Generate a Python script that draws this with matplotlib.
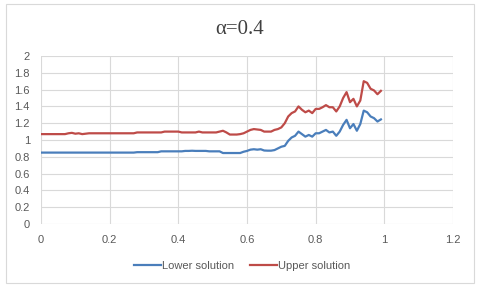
import numpy as np
import matplotlib
matplotlib.use("Agg")
import matplotlib.pyplot as plt
from matplotlib.patches import Rectangle

x_vals = [round(i * 0.01, 2) for i in range(100)]

lower = ([0.85] * 28 +
         [0.855] * 7 +
         [0.865] * 7 +
         [0.87, 0.87, 0.872, 0.87, 0.87, 0.87, 0.87] +
         [0.865, 0.865, 0.865, 0.865] +
         [0.845, 0.845, 0.845, 0.845, 0.845, 0.845] +
         [0.86, 0.87, 0.885, 0.89, 0.885, 0.89, 0.875, 0.873, 0.873, 0.88,
          0.90, 0.92, 0.93, 0.99, 1.03, 1.05, 1.10, 1.07, 1.04, 1.06,
          1.04, 1.08, 1.08, 1.10, 1.12, 1.09, 1.10, 1.05, 1.10, 1.18,
          1.24, 1.14, 1.19, 1.11, 1.19, 1.35, 1.33, 1.28, 1.26, 1.22,
          1.245])

upper = ([1.07] * 8 +
         [1.08, 1.085, 1.075, 1.08, 1.07, 1.075, 1.08] +
         [1.08] * 13 +
         [1.09] * 8 +
         [1.10] * 5 +
         [1.09] * 5 +
         [1.10] +
         [1.09] * 5 +
         [1.10, 1.11, 1.09, 1.065, 1.065, 1.065, 1.07, 1.08,
          1.10, 1.12, 1.13, 1.125, 1.12, 1.10, 1.10, 1.10, 1.12, 1.13,
          1.15, 1.20, 1.28, 1.32, 1.34, 1.40, 1.36, 1.33, 1.35, 1.32,
          1.37, 1.37, 1.39, 1.415, 1.39, 1.39, 1.34, 1.40, 1.50, 1.57,
          1.45, 1.49, 1.40, 1.47, 1.70, 1.68, 1.61, 1.59, 1.545, 1.585])

series_names = ["Lower solution", "Upper solution"]
title = "\u03b1=0.4"
x_ticks = [0, 0.2, 0.4, 0.6, 0.8, 1, 1.2]
x_ticklabels = ["0", "0.2", "0.4", "0.6", "0.8", "1", "1.2"]
y_ticks = [0, 0.2, 0.4, 0.6, 0.8, 1, 1.2, 1.4, 1.6, 1.8, 2]
y_ticklabels = ["0", "0.2", "0.4", "0.6", "0.8", "1", "1.2", "1.4", "1.6", "1.8", "2"]

fig = plt.figure(figsize=(4.8, 2.89), dpi=100)
fig.patch.set_facecolor("white")
fig.patches.append(Rectangle((6 / 480, 1 - 283 / 289), 468 / 480, 279 / 289,
                             transform=fig.transFigure, fill=False,
                             edgecolor="#d9d9d9", linewidth=0.8))

ax = fig.add_axes([41 / 480, 1 - 224 / 289, 412 / 480, 168 / 289])
ax.plot(x_vals, lower, color="#4a7ebb", lw=1.6, label=series_names[0])
ax.plot(x_vals, upper, color="#be4b48", lw=1.6, label=series_names[1])

ax.set_xlim(0, 1.2)
ax.set_ylim(0, 2)
ax.set_xticks(x_ticks)
ax.set_xticklabels(x_ticklabels)
ax.set_yticks(y_ticks)
ax.set_yticklabels(y_ticklabels)
ax.grid(True, color="#d9d9d9", linewidth=0.8)
ax.set_axisbelow(True)
for s in ax.spines.values():
    s.set_visible(False)
ax.tick_params(length=0, labelsize=8, labelcolor="#595959")
ax.tick_params(axis="x", pad=8)
ax.tick_params(axis="y", pad=8)
for lab in ax.get_xticklabels() + ax.get_yticklabels():
    lab.set_family("Liberation Sans")

fig.text(0.5, 1 - 29 / 289, title, ha="center", va="center",
         fontsize=15, color="#404040", family="Liberation Serif")

leg = fig.legend(loc="center", bbox_to_anchor=(0.505, 1 - 266 / 289), ncol=2,
                 frameon=False, handlelength=2.4, handletextpad=0.15,
                 columnspacing=1.4, prop={"family": "Liberation Sans", "size": 8})
for t in leg.get_texts():
    t.set_color("#595959")

fig.savefig("out.png", dpi=100, facecolor="white")
